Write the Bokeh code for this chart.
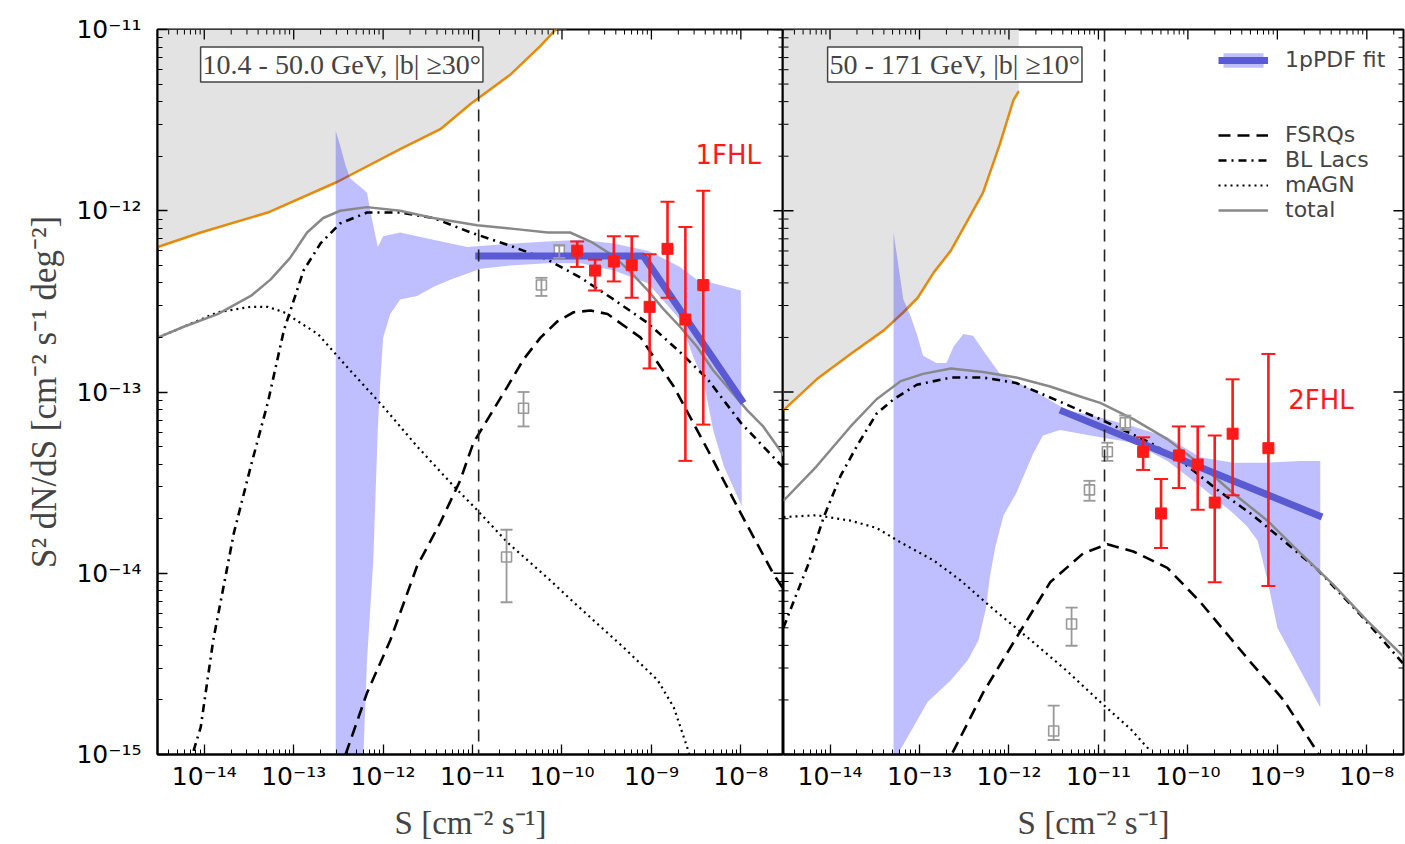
import math
import numpy as np
from bokeh.plotting import figure
from bokeh.models import (Range1d, FixedTicker, CustomJSTickFormatter, Span,
                          Whisker, TeeHead, ColumnDataSource, Label, Legend, LegendItem)
from bokeh.layouts import row
from bokeh.embed import file_html
from bokeh.resources import INLINE

# ---------------- tick values ----------------
X_TICKS = [1e-14, 1e-13, 1e-12, 1e-11, 1e-10, 1e-9, 1e-8]
Y_TICKS = [1e-15, 1e-14, 1e-13, 1e-12, 1e-11]
X_MINOR = [m * 10.0 ** e for e in range(-15, -7) for m in range(2, 10)]
Y_MINOR = [m * 10.0 ** e for e in range(-15, -11) for m in range(2, 10)]

# ---------------- data (log10 values) ----------------
S_THR = 1.17e-11

# left panel: 10.4 - 50.0 GeV, |b| >= 30 deg
L_sens_logS = [-14.52, -14.04, -13.29, -12.51, -11.81, -11.36, -11.02, -10.58, -10.24, -10.07, -9.95]
L_sens_logF = [-12.20, -12.12, -12.01, -11.84, -11.66, -11.55, -11.41, -11.25, -11.09, -11.00, -10.94]

L_total_logS = [-14.52, -14.23, -13.85, -13.48, -13.26, -13.04, -12.85, -12.67, -12.48, -12.18, -11.81, -11.44,
                -10.95, -10.54, -10.16, -9.91, -9.68, -9.42, -9.23, -9.04, -8.87, -8.68, -8.49, -8.31, -8.12,
                -7.93, -7.75, -7.52]
L_total_logF = [-12.70, -12.64, -12.57, -12.47, -12.38, -12.26, -12.12, -12.04, -12.00, -11.98, -12.00, -12.04,
                -12.08, -12.10, -12.12, -12.12, -12.17, -12.25, -12.34, -12.44, -12.54, -12.64, -12.75, -12.88,
                -12.99, -13.10, -13.19, -13.35]

L_bll_logS = [-14.12, -14.04, -13.90, -13.74, -13.67, -13.48, -13.29, -13.11, -12.89, -12.70, -12.48, -12.18,
              -11.81, -11.44, -11.02, -10.54, -10.16, -9.79, -9.42, -9.04, -8.68, -8.37, -8.00, -7.52]
L_bll_logF = [-14.98, -14.85, -14.37, -13.96, -13.78, -13.41, -13.06, -12.66, -12.33, -12.18, -12.07, -12.01,
              -12.01, -12.04, -12.12, -12.20, -12.27, -12.37, -12.49, -12.62, -12.78, -12.93, -13.17, -13.42]

L_magn_logS = [-14.52, -14.23, -13.85, -13.48, -13.29, -13.11, -12.73, -12.37, -12.00, -11.62, -11.21, -10.99,
               -10.61, -10.13, -9.87, -9.31, -8.93, -8.75, -8.60, -8.56]
L_magn_logF = [-12.70, -12.64, -12.56, -12.53, -12.53, -12.56, -12.68, -12.88, -13.08, -13.30, -13.52, -13.63,
               -13.83, -14.04, -14.16, -14.41, -14.59, -14.74, -14.96, -15.03]

L_fsrq_logS = [-12.42, -12.18, -11.92, -11.62, -11.36, -11.14, -10.99, -10.61, -10.43, -10.24, -10.05, -9.87,
               -9.68, -9.49, -9.12, -8.75, -8.37, -8.00, -7.64, -7.52]
L_fsrq_logF = [-15.00, -14.66, -14.37, -13.96, -13.72, -13.49, -13.28, -12.97, -12.82, -12.70, -12.61, -12.56,
               -12.55, -12.57, -12.70, -12.97, -13.32, -13.67, -14.00, -14.09]

L_band_logS = [-12.53, -12.53, -12.48, -12.42, -12.37, -12.25, -12.18, -12.14, -12.06, -12.00, -11.81, -11.44,
               -11.06, -10.54, -10.16, -9.79, -9.42, -9.04, -8.68, -8.49, -8.31, -8.00,
               -7.99, -8.19, -8.31, -8.42, -8.53, -8.68, -9.04, -9.42, -9.79, -10.16, -10.54, -10.91, -11.25,
               -11.44, -11.62, -11.81, -11.92, -12.00, -12.03, -12.06, -12.11, -12.18, -12.22]
L_band_logF = [-15.00, -11.56, -11.64, -11.75, -11.82, -11.87, -11.90, -12.01, -12.20, -12.14, -12.12, -12.16,
               -12.20, -12.18, -12.17, -12.16, -12.18, -12.22, -12.31, -12.38, -12.40, -12.44,
               -13.63, -13.41, -13.21, -12.93, -12.81, -12.60, -12.40, -12.33, -12.29, -12.29, -12.30, -12.32,
               -12.38, -12.42, -12.47, -12.49, -12.57, -12.70, -12.93, -13.21, -13.93, -14.48, -15.00]

L_fit_logS = [-10.97, -9.09, -7.97]
L_fit_logF = [-12.25, -12.25, -13.06]

L_pts_logS = [-9.83, -9.63, -9.42, -9.22, -9.02, -8.82, -8.62, -8.42]
L_pts_logF = [-12.22, -12.33, -12.28, -12.30, -12.53, -12.21, -12.60, -12.41]
L_pts_hi = [-12.17, -12.27, -12.14, -12.14, -12.24, -11.95, -12.09, -11.89]
L_pts_lo = [-12.31, -12.44, -12.39, -12.48, -12.87, -12.48, -13.38, -13.18]

L_cat_logS = [-10.62, -10.43, -10.23, -10.03]
L_cat_logF = [-13.91, -13.09, -12.41, -12.22]
L_cat_hi = [-13.76, -13.00, -12.37, -12.19]
L_cat_lo = [-14.16, -13.19, -12.47, -12.26]

# right panel: 50 - 171 GeV, |b| >= 10 deg
R_sens_logS = [-14.52, -14.15, -13.77, -13.40, -13.18, -13.02, -12.84, -12.65, -12.48, -12.29, -12.10, -11.95, -11.89]
R_sens_logF = [-13.10, -12.93, -12.79, -12.66, -12.56, -12.48, -12.34, -12.22, -12.07, -11.90, -11.63, -11.39, -11.34]

R_total_logS = [-14.52, -14.15, -13.77, -13.48, -13.21, -12.96, -12.65, -12.29, -11.92, -11.54, -11.17, -10.98,
                -10.61, -10.23, -9.86, -9.49, -9.11, -8.74, -8.38, -8.00, -7.59]
R_total_logF = [-13.60, -13.41, -13.19, -13.04, -12.94, -12.90, -12.87, -12.89, -12.92, -12.97, -13.03, -13.06,
                -13.15, -13.26, -13.40, -13.56, -13.71, -13.89, -14.06, -14.26, -14.46]

R_bll_logS = [-14.52, -14.41, -14.25, -14.07, -13.88, -13.69, -13.48, -13.29, -13.03, -12.65, -12.29, -11.92,
              -11.54, -10.98, -10.42, -10.05, -9.67, -9.30, -8.93, -8.55, -8.07, -7.59]
R_bll_logF = [-14.30, -14.16, -13.96, -13.69, -13.46, -13.29, -13.12, -13.04, -12.96, -12.92, -12.92, -12.95,
              -13.03, -13.15, -13.28, -13.39, -13.54, -13.67, -13.82, -13.98, -14.23, -14.50]

R_magn_logS = [-14.52, -14.15, -13.77, -13.48, -13.21, -12.84, -12.54, -12.17, -11.73, -11.35, -10.98, -10.64, -10.42]
R_magn_logF = [-13.69, -13.68, -13.71, -13.75, -13.83, -13.93, -14.04, -14.20, -14.38, -14.54, -14.71, -14.86, -14.98]

R_fsrq_logS = [-12.63, -12.29, -11.91, -11.54, -11.17, -10.90, -10.61, -10.23, -9.86, -9.30, -8.93, -8.60, -8.50]
R_fsrq_logF = [-14.99, -14.66, -14.35, -14.05, -13.89, -13.84, -13.88, -13.97, -14.16, -14.49, -14.70, -14.95, -15.03]

R_band_logS = [-13.29, -13.29, -13.26, -13.18, -13.10, -13.03, -12.96, -12.81, -12.70, -12.62, -12.51, -12.40,
               -12.29, -12.10, -11.73, -11.35, -10.98, -10.61, -10.23, -9.86, -9.49, -9.11, -8.74, -8.52,
               -8.52, -9.00, -9.11, -9.22, -9.34, -9.49, -9.86, -10.23, -10.61, -10.98, -11.43, -11.62, -11.73,
               -11.92, -12.06, -12.15, -12.21, -12.26, -12.34, -12.46, -12.65, -12.91, -13.07, -13.21, -13.24]
R_band_logF = [-15.00, -12.12, -12.22, -12.49, -12.58, -12.68, -12.80, -12.84, -12.84, -12.75, -12.68, -12.69,
               -12.77, -12.90, -12.99, -13.10, -13.14, -13.19, -13.25, -13.36, -13.39, -13.39, -13.38, -13.38,
               -14.74, -14.30, -14.04, -13.82, -13.74, -13.67, -13.52, -13.38, -13.28, -13.25, -13.21, -13.24,
               -13.34, -13.56, -13.68, -13.85, -14.01, -14.20, -14.37, -14.48, -14.59, -14.71, -14.85, -14.97, -15.00]

R_fit_logS = [-11.43, -8.50]
R_fit_logF = [-13.10, -13.69]

R_pts_logS = [-10.50, -10.30, -10.10, -9.89, -9.70, -9.50, -9.10]
R_pts_logF = [-13.33, -13.67, -13.35, -13.40, -13.61, -13.23, -13.31]
R_pts_hi = [-13.25, -13.48, -13.19, -13.19, -13.24, -12.93, -12.79]
R_pts_lo = [-13.43, -13.86, -13.53, -13.65, -14.05, -13.57, -14.07]

R_cat_logS = [-11.50, -11.30, -11.10, -10.90, -10.70]
R_cat_logF = [-14.87, -14.28, -13.54, -13.33, -13.17]
R_cat_hi = [-14.73, -14.19, -13.49, -13.28, -13.13]
R_cat_lo = [-14.92, -14.40, -13.60, -13.38, -13.21]

L_title = "10.4 - 50.0 GeV, |b| \u226530\u00b0"
R_title = "50 - 171 GeV, |b| \u226510\u00b0"
L_cat_name = "1FHL"
R_cat_name = "2FHL"

# ---------------- helpers ----------------
def E(a):
    return [10.0 ** v for v in a]

SUP_JS = """
const e = Math.round(Math.log10(tick));
const m = {"-":"\\u207b","0":"\\u2070","1":"\\u00b9","2":"\\u00b2","3":"\\u00b3","4":"\\u2074",
           "5":"\\u2075","6":"\\u2076","7":"\\u2077","8":"\\u2078","9":"\\u2079"};
return "10" + String(e).split("").map(c => m[c]).join("");
"""

TICK_FONT = "DejaVu Sans"
LABEL_FONT = "Liberation Serif"


def style_axis(ax, ticks, minor):
    ax.ticker = FixedTicker(ticks=ticks, minor_ticks=minor)
    ax.formatter = CustomJSTickFormatter(code=SUP_JS)
    ax.axis_line_color = "black"
    ax.axis_line_width = 2
    ax.major_tick_line_color = "black"
    ax.minor_tick_line_color = "black"
    ax.major_tick_line_width = 1.3
    ax.minor_tick_line_width = 1.0
    ax.major_tick_in = 10
    ax.major_tick_out = 0
    ax.minor_tick_in = 5
    ax.minor_tick_out = 0
    ax.major_label_text_font = TICK_FONT
    ax.major_label_text_font_size = "25px"
    ax.major_label_text_color = "black"


def add_edge_ticks(p, xlo, xhi, left, right):
    """inward tick marks on the unlabelled spines (top, and left/right where no axis)"""
    kw = dict(length_units="screen", line_color="black")
    p.ray(x=X_TICKS, y=[1e-11] * len(X_TICKS), length=10, angle=-math.pi / 2, line_width=1.3, **kw)
    p.ray(x=X_MINOR, y=[1e-11] * len(X_MINOR), length=5, angle=-math.pi / 2, line_width=1.0, **kw)
    sides = []
    if left:
        sides.append((xlo, 0.0))
    if right:
        sides.append((xhi, math.pi))
    for xe, ang in sides:
        p.ray(x=[xe] * len(Y_TICKS), y=Y_TICKS, length=10, angle=ang, line_width=1.3, **kw)
        p.ray(x=[xe] * len(Y_MINOR), y=Y_MINOR, length=5, angle=ang, line_width=1.0, **kw)


def make_fig(width, xlog, bl, br, ylabels):
    p = figure(width=width, height=844, x_axis_type="log", y_axis_type="log",
               x_range=Range1d(10 ** xlog[0], 10 ** xlog[1]), y_range=Range1d(1e-15, 1e-11),
               output_backend="svg", toolbar_location=None,
               y_axis_location="left" if ylabels else None,
               min_border_left=bl, min_border_right=br, min_border_top=29, min_border_bottom=90)
    p.grid.visible = False
    p.outline_line_color = "black"
    p.outline_line_width = 2
    p.background_fill_color = "white"
    p.border_fill_color = "white"
    xa = p.below[0]
    style_axis(xa, X_TICKS, X_MINOR)
    xa.major_label_standoff = 7
    xa.axis_label = "S [cm\u207b\u00b2 s\u207b\u00b9]"
    xa.axis_label_text_font = LABEL_FONT
    xa.axis_label_text_font_size = "33px"
    xa.axis_label_text_font_style = "normal"
    xa.axis_label_standoff = 11
    if ylabels:
        ya = p.left[0]
        style_axis(ya, Y_TICKS, Y_MINOR)
        ya.major_label_standoff = 16
        ya.axis_label = "S\u00b2 dN/dS [cm\u207b\u00b2 s\u207b\u00b9 deg\u207b\u00b2]"
        ya.axis_label_text_font = LABEL_FONT
        ya.axis_label_text_font_size = "35px"
        ya.axis_label_text_font_style = "normal"
        ya.axis_label_standoff = 9
    return p


def draw_panel(p, d, title, title_pos, cat_name, cat_pos):
    TOP = 1e-11
    p.varea(x=E(d["sens_S"]), y1=E(d["sens_F"]), y2=[TOP] * len(d["sens_S"]), fill_color="#e3e3e3")
    p.line(E(d["sens_S"]), E(d["sens_F"]), line_color="#e38b0d", line_width=2.5)
    band = p.patch(E(d["band_S"]), E(d["band_F"]), fill_color="#0000ff", fill_alpha=0.25, line_color=None)
    p.add_layout(Span(location=S_THR, dimension="height", line_color="#222222", line_width=1.6,
                      line_dash="12 8"))
    fs = p.line(E(d["fsrq_S"]), E(d["fsrq_F"]), line_color="black", line_width=2.6, line_dash="12 7")
    bl = p.line(E(d["bll_S"]), E(d["bll_F"]), line_color="black", line_width=2.6, line_dash="8 5 2 5")
    mg = p.line(E(d["magn_S"]), E(d["magn_F"]), line_color="black", line_width=2.2, line_dash="2 4")
    tt = p.line(E(d["total_S"]), E(d["total_F"]), line_color="#888888", line_width=2.5)

    csrc = ColumnDataSource(dict(x=E(d["cat_S"]), y=E(d["cat_F"]), lo=E(d["cat_lo"]), hi=E(d["cat_hi"])))
    p.add_layout(Whisker(source=csrc, base="x", lower="lo", upper="hi", dimension="height",
                         line_color="#999999", line_width=1.8, level="glyph",
                         upper_head=TeeHead(size=12, line_color="#999999", line_width=1.8),
                         lower_head=TeeHead(size=12, line_color="#999999", line_width=1.8)))
    p.scatter("x", "y", source=csrc, marker="square", size=10, fill_color="white",
              line_color="#999999", line_width=1.6)

    fit = p.line(E(d["fit_S"]), E(d["fit_F"]), line_color="#5a5ad2", line_width=7)

    psrc = ColumnDataSource(dict(x=E(d["pts_S"]), y=E(d["pts_F"]), lo=E(d["pts_lo"]), hi=E(d["pts_hi"])))
    p.add_layout(Whisker(source=psrc, base="x", lower="lo", upper="hi", dimension="height",
                         line_color="#ff1a1a", line_width=2.6, level="annotation",
                         upper_head=TeeHead(size=14, line_color="#ff1a1a", line_width=2),
                         lower_head=TeeHead(size=14, line_color="#ff1a1a", line_width=2)))
    p.scatter("x", "y", source=psrc, marker="square", size=11, fill_color="#ff1a1a", line_color="#ff1a1a")

    p.add_layout(Label(x=title_pos[0], y=title_pos[1], text=title, text_font=LABEL_FONT,
                       text_font_size="28px", text_baseline="top", text_align="left",
                       background_fill_color="white", border_line_color="#444444",
                       border_line_width=1.5, padding=2))
    p.add_layout(Label(x=cat_pos[0], y=cat_pos[1], text=cat_name, text_font="DejaVu Sans",
                       text_font_size="26px", text_color="#ff1a1a", text_baseline="alphabetic"))
    return dict(band=band, fit=fit, fsrq=fs, bll=bl, magn=mg, total=tt)


def pack(prefix):
    g = globals()
    keys = ["sens", "total", "bll", "magn", "fsrq", "band", "fit", "pts", "cat"]
    d = {}
    for k in keys:
        d[k + "_S"] = g[prefix + k + "_logS"]
        d[k + "_F"] = g[prefix + k + "_logF"]
    d["pts_lo"], d["pts_hi"] = g[prefix + "pts_lo"], g[prefix + "pts_hi"]
    d["cat_lo"], d["cat_hi"] = g[prefix + "cat_lo"], g[prefix + "cat_hi"]
    return d


L_XLOG = (-14.523, -7.523)
R_XLOG = (-14.52, -7.59)
p1 = make_fig(783, L_XLOG, 157, 0, True)
p2 = make_fig(622, R_XLOG, 0, 2, False)

draw_panel(p1, pack("L_"), L_title, (9.1e-15, 8.0e-12), L_cat_name, (3.11e-9, 2.03e-12))
r = draw_panel(p2, pack("R_"), R_title, (9.4e-15, 8.0e-12), R_cat_name, (1.32e-9, 9.05e-14))

add_edge_ticks(p1, 10 ** L_XLOG[0], 10 ** L_XLOG[1], left=False, right=True)
add_edge_ticks(p2, 10 ** R_XLOG[0], 10 ** R_XLOG[1], left=True, right=True)

common = dict(border_line_color=None, background_fill_alpha=0, label_text_font="DejaVu Sans",
              label_text_font_size="22px", glyph_width=50, label_standoff=17, padding=0, spacing=0,
              margin=0)
leg1 = Legend(items=[LegendItem(label="1pPDF fit", renderers=[r["band"], r["fit"]])],
              location=(435, 682), glyph_height=18, label_height=18, **common)
leg2 = Legend(items=[LegendItem(label="FSRQs", renderers=[r["fsrq"]]),
                     LegendItem(label="BL Lacs", renderers=[r["bll"]]),
                     LegendItem(label="mAGN", renderers=[r["magn"]]),
                     LegendItem(label="total", renderers=[r["total"]])],
              location=(435, 532), glyph_height=20, label_height=20, **common)
p2.add_layout(leg1)
p2.add_layout(leg2)

layout = row(p1, p2)
open("out.html", "w").write(file_html(layout, INLINE))
